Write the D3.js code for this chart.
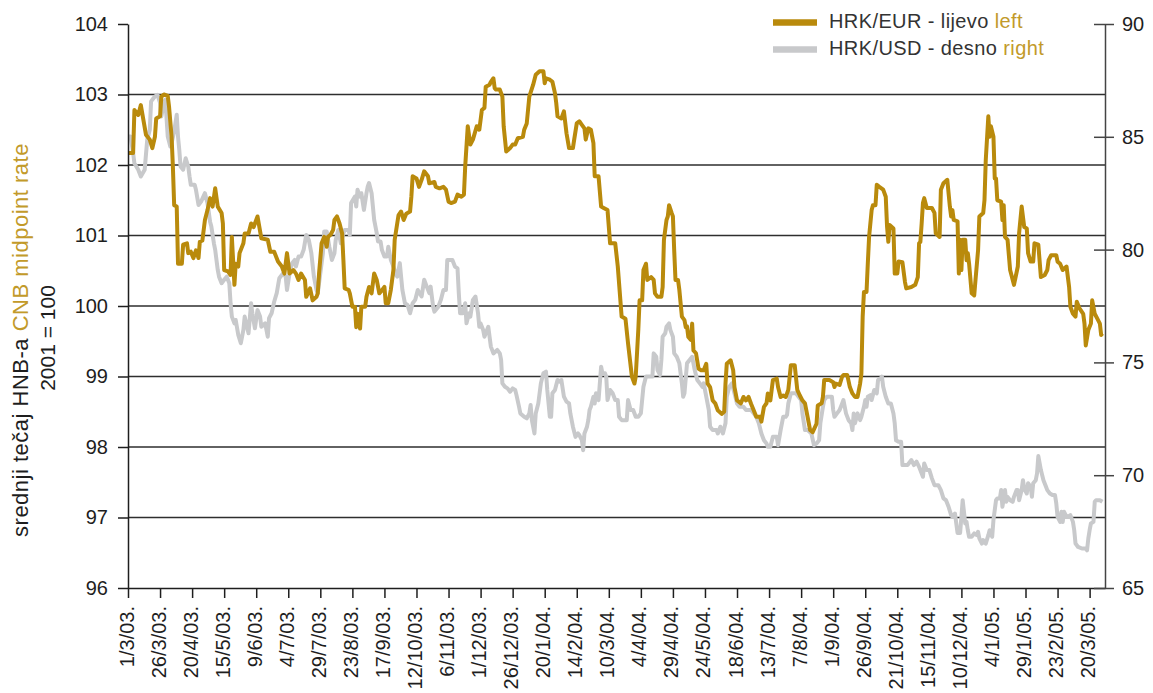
<!DOCTYPE html>
<html><head><meta charset="utf-8">
<script src="https://cdn.jsdelivr.net/npm/d3@7"></script>
<style>body{margin:0;background:#fff}svg{display:block;font-family:"Liberation Sans",Arial,Helvetica,sans-serif}</style>
</head><body><svg id="chart" width="1153" height="693"></svg>
<script>
// ---------------- data ----------------
const xTickLabels = ["1/3/03.","26/3/03.","20/4/03.","15/5/03.","9/6/03.","4/7/03.","29/7/03.","23/8/03.","17/9/03.","12/10/03.","6/11/03.","1/12/03.","26/12/03.","20/1/04.","14/2/04.","10/3/04.","4/4/04.","29/4/04.","24/5/04.","18/6/04.","13/7/04.","7/8/04.","1/9/04.","26/9/04.","21/10/04.","15/11/04.","10/12/04.","4/1/05.","29/1/05.","23/2/05.","20/3/05."];
const leftTicks = [96,97,98,99,100,101,102,103,104];
const rightTicks = [65,70,75,80,85,90];
const legendLabels = [["HRK/EUR - lijevo ","left"],["HRK/USD - desno ","right"]];
const titleLine1 = ["srednji tečaj HNB-a ","CNB midpoint rate"];
const titleLine2 = "2001 = 100";

// HRK/EUR index, left axis
const eurSeries = [["2003-03-01",102.17],["2003-03-05",102.17],["2003-03-06",102.78],["2003-03-09",102.71],["2003-03-11",102.85],["2003-03-13",102.64],["2003-03-15",102.43],["2003-03-18",102.36],["2003-03-20",102.24],["2003-03-22",102.40],["2003-03-23",102.66],["2003-03-26",102.69],["2003-03-27",102.97],["2003-03-29",103.00],["2003-04-01",102.98],["2003-04-02",102.83],["2003-04-04",102.40],["2003-04-05",101.98],["2003-04-06",101.43],["2003-04-08",101.41],["2003-04-09",100.60],["2003-04-12",100.60],["2003-04-13",100.87],["2003-04-16",100.89],["2003-04-17",100.75],["2003-04-19",100.77],["2003-04-21",100.68],["2003-04-23",100.79],["2003-04-25",100.68],["2003-04-26",100.91],["2003-04-28",100.93],["2003-04-30",101.22],["2003-05-02",101.36],["2003-05-04",101.53],["2003-05-06",101.41],["2003-05-08",101.67],["2003-05-10",101.41],["2003-05-13",101.32],["2003-05-14",101.17],["2003-05-15",100.51],["2003-05-18",100.49],["2003-05-20",100.44],["2003-05-21",100.98],["2003-05-23",100.30],["2003-05-24",100.60],["2003-05-26",100.56],["2003-05-27",100.75],["2003-05-30",100.89],["2003-05-31",101.03],["2003-06-03",101.03],["2003-06-05",101.17],["2003-06-07",101.12],["2003-06-10",101.27],["2003-06-13",100.96],["2003-06-18",100.94],["2003-06-20",100.77],["2003-06-23",100.77],["2003-06-26",100.63],["2003-06-29",100.56],["2003-07-01",100.46],["2003-07-03",100.75],["2003-07-05",100.46],["2003-07-08",100.51],["2003-07-10",100.46],["2003-07-12",100.37],["2003-07-14",100.46],["2003-07-17",100.37],["2003-07-18",100.13],["2003-07-21",100.25],["2003-07-23",100.08],["2003-07-26",100.13],["2003-07-27",100.18],["2003-07-28",100.46],["2003-07-30",100.89],["2003-08-01",100.98],["2003-08-03",100.84],["2003-08-04",100.98],["2003-08-06",101.01],["2003-08-08",101.08],["2003-08-09",101.22],["2003-08-11",101.27],["2003-08-13",101.17],["2003-08-15",101.03],["2003-08-16",100.65],["2003-08-17",100.25],["2003-08-20",100.23],["2003-08-21",100.18],["2003-08-23",99.99],["2003-08-25",99.99],["2003-08-26",99.70],["2003-08-27",99.89],["2003-08-29",99.68],["2003-08-30",99.99],["2003-09-02",99.99],["2003-09-03",100.13],["2003-09-05",100.27],["2003-09-07",100.18],["2003-09-09",100.46],["2003-09-11",100.37],["2003-09-13",100.18],["2003-09-15",100.22],["2003-09-17",100.27],["2003-09-18",100.04],["2003-09-20",100.04],["2003-09-22",100.23],["2003-09-24",100.51],["2003-09-25",100.94],["2003-09-28",101.29],["2003-09-30",101.34],["2003-10-02",101.22],["2003-10-04",101.31],["2003-10-07",101.34],["2003-10-08",101.55],["2003-10-09",101.84],["2003-10-12",101.81],["2003-10-14",101.69],["2003-10-16",101.79],["2003-10-18",101.91],["2003-10-21",101.84],["2003-10-22",101.74],["2003-10-26",101.76],["2003-10-27",101.69],["2003-10-30",101.67],["2003-11-02",101.69],["2003-11-04",101.65],["2003-11-06",101.48],["2003-11-08",101.46],["2003-11-11",101.48],["2003-11-13",101.58],["2003-11-16",101.55],["2003-11-18",101.58],["2003-11-19",101.98],["2003-11-21",102.55],["2003-11-23",102.29],["2003-11-25",102.36],["2003-11-28",102.55],["2003-11-30",102.50],["2003-12-02",102.78],["2003-12-04",102.81],["2003-12-05",103.11],["2003-12-08",103.14],["2003-12-09",103.18],["2003-12-11",103.23],["2003-12-12",103.09],["2003-12-13",103.07],["2003-12-16",103.07],["2003-12-18",102.97],["2003-12-19",102.55],["2003-12-21",102.19],["2003-12-24",102.24],["2003-12-26",102.29],["2003-12-28",102.29],["2003-12-30",102.38],["2004-01-03",102.40],["2004-01-04",102.50],["2004-01-06",102.59],["2004-01-08",102.97],["2004-01-11",103.14],["2004-01-13",103.28],["2004-01-16",103.33],["2004-01-19",103.33],["2004-01-20",103.16],["2004-01-21",103.23],["2004-01-24",103.21],["2004-01-26",103.18],["2004-01-28",103.02],["2004-01-29",102.88],["2004-01-30",102.69],["2004-02-02",102.66],["2004-02-04",102.76],["2004-02-06",102.45],["2004-02-08",102.24],["2004-02-11",102.24],["2004-02-12",102.36],["2004-02-14",102.59],["2004-02-16",102.62],["2004-02-18",102.57],["2004-02-20",102.52],["2004-02-21",102.36],["2004-02-23",102.52],["2004-02-25",102.50],["2004-02-27",102.31],["2004-02-28",101.84],["2004-03-02",101.84],["2004-03-04",101.41],["2004-03-06",101.39],["2004-03-09",101.36],["2004-03-11",100.89],["2004-03-15",100.89],["2004-03-17",100.56],["2004-03-20",99.85],["2004-03-23",99.82],["2004-03-25",99.47],["2004-03-28",99.00],["2004-03-30",98.90],["2004-03-31",99.00],["2004-04-02",99.66],["2004-04-03",100.08],["2004-04-05",100.08],["2004-04-06",100.51],["2004-04-08",100.60],["2004-04-09",100.37],["2004-04-12",100.41],["2004-04-14",100.37],["2004-04-15",100.18],["2004-04-17",100.13],["2004-04-20",100.13],["2004-04-21",100.27],["2004-04-22",100.94],["2004-04-24",101.22],["2004-04-25",101.27],["2004-04-26",101.43],["2004-04-28",101.32],["2004-04-29",101.27],["2004-04-30",100.79],["2004-05-01",100.37],["2004-05-03",100.37],["2004-05-04",100.23],["2004-05-06",99.85],["2004-05-08",99.80],["2004-05-09",99.70],["2004-05-10",99.71],["2004-05-11",99.56],["2004-05-13",99.52],["2004-05-14",99.75],["2004-05-15",99.37],["2004-05-17",99.33],["2004-05-19",99.11],["2004-05-21",99.09],["2004-05-23",99.09],["2004-05-25",99.18],["2004-05-26",98.90],["2004-05-28",98.85],["2004-05-30",98.66],["2004-06-01",98.62],["2004-06-03",98.52],["2004-06-06",98.47],["2004-06-08",98.50],["2004-06-09",98.90],["2004-06-10",99.18],["2004-06-13",99.23],["2004-06-15",99.09],["2004-06-16",98.85],["2004-06-18",98.66],["2004-06-21",98.62],["2004-06-23",98.71],["2004-06-25",98.66],["2004-06-27",98.71],["2004-06-29",98.61],["2004-07-01",98.52],["2004-07-03",98.43],["2004-07-06",98.43],["2004-07-07",98.36],["2004-07-09",98.57],["2004-07-11",98.62],["2004-07-12",98.76],["2004-07-14",98.66],["2004-07-15",98.81],["2004-07-16",98.95],["2004-07-19",98.97],["2004-07-20",98.85],["2004-07-22",98.71],["2004-07-24",98.73],["2004-07-26",98.71],["2004-07-28",98.81],["2004-07-30",99.16],["2004-08-02",99.16],["2004-08-04",98.81],["2004-08-06",98.73],["2004-08-08",98.66],["2004-08-10",98.62],["2004-08-12",98.43],["2004-08-14",98.24],["2004-08-16",98.21],["2004-08-19",98.33],["2004-08-20",98.59],["2004-08-23",98.62],["2004-08-24",98.71],["2004-08-25",98.95],["2004-08-29",98.95],["2004-09-01",98.92],["2004-09-02",98.85],["2004-09-03",98.90],["2004-09-06",98.88],["2004-09-08",99.00],["2004-09-09",99.02],["2004-09-12",99.02],["2004-09-14",98.85],["2004-09-16",98.76],["2004-09-18",98.71],["2004-09-20",98.71],["2004-09-22",98.90],["2004-09-23",99.04],["2004-09-24",99.85],["2004-09-25",100.20],["2004-09-27",100.20],["2004-09-28",100.60],["2004-09-29",100.98],["2004-10-01",101.36],["2004-10-02",101.43],["2004-10-04",101.43],["2004-10-05",101.72],["2004-10-07",101.69],["2004-10-10",101.65],["2004-10-12",101.55],["2004-10-13",101.13],["2004-10-14",100.91],["2004-10-15",101.15],["2004-10-18",101.10],["2004-10-19",100.46],["2004-10-21",100.46],["2004-10-22",100.63],["2004-10-25",100.62],["2004-10-27",100.34],["2004-10-28",100.25],["2004-11-01",100.27],["2004-11-04",100.30],["2004-11-06",100.41],["2004-11-07",100.89],["2004-11-08",100.91],["2004-11-09",101.17],["2004-11-10",101.46],["2004-11-11",101.53],["2004-11-13",101.39],["2004-11-15",101.39],["2004-11-17",101.39],["2004-11-19",101.32],["2004-11-20",101.03],["2004-11-23",100.98],["2004-11-24",101.65],["2004-11-26",101.74],["2004-11-29",101.79],["2004-12-01",101.41],["2004-12-02",101.27],["2004-12-03",101.36],["2004-12-04",101.22],["2004-12-07",101.20],["2004-12-08",100.46],["2004-12-09",100.94],["2004-12-10",100.51],["2004-12-11",100.94],["2004-12-13",100.94],["2004-12-14",100.65],["2004-12-15",100.75],["2004-12-16",100.60],["2004-12-18",100.18],["2004-12-20",100.15],["2004-12-21",100.37],["2004-12-23",100.79],["2004-12-24",101.27],["2004-12-27",101.32],["2004-12-28",101.50],["2004-12-29",102.07],["2004-12-31",102.69],["2005-01-01",102.40],["2005-01-02",102.55],["2005-01-04",102.40],["2005-01-05",101.81],["2005-01-06",101.81],["2005-01-07",101.50],["2005-01-10",101.48],["2005-01-11",101.22],["2005-01-12",101.43],["2005-01-13",100.98],["2005-01-15",100.94],["2005-01-17",100.51],["2005-01-20",100.30],["2005-01-23",100.56],["2005-01-24",101.03],["2005-01-26",101.41],["2005-01-28",101.12],["2005-01-30",101.10],["2005-01-31",100.75],["2005-02-02",100.63],["2005-02-04",100.63],["2005-02-05",100.89],["2005-02-08",100.87],["2005-02-10",100.41],["2005-02-13",100.44],["2005-02-15",100.51],["2005-02-16",100.65],["2005-02-18",100.72],["2005-02-22",100.72],["2005-02-23",100.63],["2005-02-25",100.60],["2005-02-27",100.51],["2005-03-02",100.56],["2005-03-04",100.27],["2005-03-05",99.99],["2005-03-07",99.89],["2005-03-09",99.85],["2005-03-10",100.06],["2005-03-12",99.97],["2005-03-15",99.89],["2005-03-16",99.75],["2005-03-17",99.44],["2005-03-19",99.66],["2005-03-21",99.75],["2005-03-22",100.08],["2005-03-24",99.89],["2005-03-26",99.82],["2005-03-28",99.75],["2005-03-29",99.59],["2005-03-30",99.61]];

// HRK/USD index, right axis
const usdSeries = [["2003-03-01",85.01],["2003-03-03",85.01],["2003-03-05",84.28],["2003-03-06",83.83],["2003-03-09",83.54],["2003-03-11",83.24],["2003-03-14",83.54],["2003-03-16",84.87],["2003-03-18",85.31],["2003-03-19",86.57],["2003-03-21",86.72],["2003-03-22",86.79],["2003-03-24",86.86],["2003-03-26",86.50],["2003-03-27",85.90],["2003-03-28",86.20],["2003-03-30",86.64],["2003-03-31",85.90],["2003-04-01",85.01],["2003-04-03",84.57],["2003-04-04",84.72],["2003-04-06",85.24],["2003-04-08",85.98],["2003-04-09",85.01],["2003-04-10",84.42],["2003-04-11",83.68],["2003-04-13",83.54],["2003-04-15",84.05],["2003-04-17",83.68],["2003-04-18",83.24],["2003-04-19",82.87],["2003-04-22",82.87],["2003-04-23",82.65],["2003-04-25",81.98],["2003-04-27",82.13],["2003-04-30",82.50],["2003-05-02",82.06],["2003-05-04",81.24],["2003-05-05",81.02],["2003-05-07",80.28],["2003-05-08",79.99],["2003-05-10",79.10],["2003-05-11",78.80],["2003-05-13",78.51],["2003-05-15",78.66],["2003-05-17",78.80],["2003-05-19",78.51],["2003-05-20",77.62],["2003-05-21",77.03],["2003-05-23",76.73],["2003-05-24",76.88],["2003-05-26",76.22],["2003-05-28",75.85],["2003-05-30",76.44],["2003-05-31",77.03],["2003-06-03",76.29],["2003-06-05",77.62],["2003-06-06",77.18],["2003-06-08",76.51],["2003-06-10",77.32],["2003-06-12",77.03],["2003-06-13",76.58],["2003-06-16",76.73],["2003-06-18",76.14],["2003-06-19",76.96],["2003-06-21",77.18],["2003-06-23",77.69],["2003-06-25",78.07],["2003-06-27",78.73],["2003-06-30",78.95],["2003-07-02",78.80],["2003-07-03",78.21],["2003-07-05",78.95],["2003-07-07",79.40],["2003-07-09",79.54],["2003-07-10",79.25],["2003-07-12",79.69],["2003-07-14",79.69],["2003-07-16",79.99],["2003-07-18",80.65],["2003-07-20",80.43],["2003-07-22",79.84],["2003-07-24",78.80],["2003-07-26",78.21],["2003-07-27",78.07],["2003-07-29",78.95],["2003-07-31",79.84],["2003-08-01",80.80],["2003-08-03",80.80],["2003-08-05",80.13],["2003-08-07",79.54],["2003-08-09",79.84],["2003-08-10",80.43],["2003-08-12",80.87],["2003-08-14",80.28],["2003-08-16",80.73],["2003-08-17",80.87],["2003-08-20",80.87],["2003-08-21",80.65],["2003-08-22",82.06],["2003-08-25",82.35],["2003-08-26",81.91],["2003-08-27",82.65],["2003-08-29",82.35],["2003-08-30",82.50],["2003-09-01",81.76],["2003-09-03",82.50],["2003-09-04",82.80],["2003-09-05",82.95],["2003-09-07",82.50],["2003-09-08",81.91],["2003-09-09",81.32],["2003-09-11",80.73],["2003-09-12",80.36],["2003-09-14",80.36],["2003-09-15",79.99],["2003-09-17",79.69],["2003-09-19",79.69],["2003-09-20",80.13],["2003-09-22",79.54],["2003-09-24",79.25],["2003-09-26",78.88],["2003-09-27",78.80],["2003-09-29",79.40],["2003-09-30",78.80],["2003-10-01",78.21],["2003-10-03",77.62],["2003-10-05",77.55],["2003-10-07",77.18],["2003-10-09",77.62],["2003-10-11",77.77],["2003-10-13",78.21],["2003-10-16",77.92],["2003-10-18",78.66],["2003-10-20",78.36],["2003-10-22",78.07],["2003-10-23",78.36],["2003-10-25",77.47],["2003-10-26",77.25],["2003-10-29",77.47],["2003-10-31",77.77],["2003-11-02",78.21],["2003-11-04",78.21],["2003-11-05",79.54],["2003-11-06",79.54],["2003-11-09",79.54],["2003-11-11",79.25],["2003-11-13",79.17],["2003-11-14",78.07],["2003-11-15",77.18],["2003-11-17",77.18],["2003-11-19",77.62],["2003-11-20",76.73],["2003-11-22",77.18],["2003-11-23",77.03],["2003-11-25",77.77],["2003-11-27",77.92],["2003-11-29",77.18],["2003-11-30",76.58],["2003-12-01",76.73],["2003-12-03",76.44],["2003-12-04",76.14],["2003-12-07",76.58],["2003-12-08",76.14],["2003-12-09",75.70],["2003-12-11",75.40],["2003-12-14",75.55],["2003-12-16",75.40],["2003-12-17",75.11],["2003-12-18",74.07],["2003-12-20",73.92],["2003-12-22",73.85],["2003-12-24",73.70],["2003-12-26",73.85],["2003-12-28",73.78],["2003-12-29",73.55],["2003-12-31",73.03],["2004-01-01",72.74],["2004-01-04",72.59],["2004-01-06",72.52],["2004-01-08",72.74],["2004-01-09",73.11],["2004-01-10",72.44],["2004-01-12",71.85],["2004-01-13",72.74],["2004-01-15",73.18],["2004-01-17",74.07],["2004-01-19",74.52],["2004-01-21",74.59],["2004-01-22",73.78],["2004-01-24",72.59],["2004-01-25",72.59],["2004-01-26",73.63],["2004-01-28",73.78],["2004-01-30",74.22],["2004-02-01",74.14],["2004-02-02",74.22],["2004-02-04",73.48],["2004-02-06",73.26],["2004-02-08",73.18],["2004-02-09",72.74],["2004-02-11",72.15],["2004-02-13",71.70],["2004-02-15",71.85],["2004-02-16",71.78],["2004-02-18",71.55],["2004-02-19",71.11],["2004-02-20",71.85],["2004-02-22",72.15],["2004-02-23",72.44],["2004-02-24",72.89],["2004-02-25",73.03],["2004-02-27",73.48],["2004-02-28",73.18],["2004-02-29",73.63],["2004-03-02",73.33],["2004-03-04",74.81],["2004-03-05",74.52],["2004-03-07",74.52],["2004-03-08",74.37],["2004-03-09",73.33],["2004-03-11",73.78],["2004-03-13",73.63],["2004-03-15",73.33],["2004-03-17",73.33],["2004-03-18",72.59],["2004-03-20",72.44],["2004-03-24",72.44],["2004-03-25",73.33],["2004-03-27",72.89],["2004-03-29",72.89],["2004-03-31",72.59],["2004-04-02",72.59],["2004-04-04",72.74],["2004-04-06",73.92],["2004-04-08",74.37],["2004-04-11",74.37],["2004-04-13",74.37],["2004-04-14",75.40],["2004-04-16",75.25],["2004-04-17",74.66],["2004-04-19",74.44],["2004-04-20",75.11],["2004-04-21",76.14],["2004-04-23",76.29],["2004-04-24",76.58],["2004-04-26",76.73],["2004-04-27",76.44],["2004-04-29",76.14],["2004-04-30",75.40],["2004-05-02",75.25],["2004-05-04",74.96],["2004-05-06",74.07],["2004-05-07",73.48],["2004-05-08",73.63],["2004-05-10",74.96],["2004-05-12",75.11],["2004-05-14",75.25],["2004-05-15",74.96],["2004-05-16",74.66],["2004-05-18",74.22],["2004-05-20",74.07],["2004-05-22",73.92],["2004-05-23",74.07],["2004-05-25",73.48],["2004-05-27",72.89],["2004-05-28",72.15],["2004-05-30",72.00],["2004-06-02",72.00],["2004-06-03",71.85],["2004-06-05",72.15],["2004-06-07",71.85],["2004-06-09",72.30],["2004-06-10",73.48],["2004-06-12",73.92],["2004-06-14",74.07],["2004-06-16",73.63],["2004-06-18",73.18],["2004-06-20",73.03],["2004-06-23",73.03],["2004-06-25",72.89],["2004-06-27",72.89],["2004-06-29",72.89],["2004-07-01",72.74],["2004-07-03",72.59],["2004-07-05",72.30],["2004-07-07",71.85],["2004-07-09",71.55],["2004-07-11",71.41],["2004-07-12",71.26],["2004-07-14",71.26],["2004-07-16",71.70],["2004-07-19",71.70],["2004-07-20",71.33],["2004-07-22",72.00],["2004-07-24",72.59],["2004-07-26",72.59],["2004-07-27",72.67],["2004-07-28",73.18],["2004-07-30",73.63],["2004-08-01",73.63],["2004-08-03",73.63],["2004-08-05",73.48],["2004-08-07",73.33],["2004-08-08",72.74],["2004-08-10",72.00],["2004-08-12",72.00],["2004-08-15",71.85],["2004-08-17",71.33],["2004-08-19",71.41],["2004-08-21",71.55],["2004-08-22",72.30],["2004-08-24",73.03],["2004-08-25",73.33],["2004-08-27",73.48],["2004-08-31",73.48],["2004-09-01",72.89],["2004-09-02",72.59],["2004-09-04",72.74],["2004-09-06",72.89],["2004-09-08",73.18],["2004-09-09",73.33],["2004-09-11",72.74],["2004-09-13",72.44],["2004-09-15",72.30],["2004-09-16",72.00],["2004-09-17",72.74],["2004-09-18",72.30],["2004-09-20",72.74],["2004-09-22",72.44],["2004-09-23",72.59],["2004-09-25",73.03],["2004-09-26",73.33],["2004-09-27",73.03],["2004-09-28",73.48],["2004-09-30",73.55],["2004-10-01",73.33],["2004-10-03",73.78],["2004-10-05",73.63],["2004-10-06",74.22],["2004-10-08",74.29],["2004-10-09",74.37],["2004-10-10",73.92],["2004-10-12",73.48],["2004-10-14",73.18],["2004-10-16",73.18],["2004-10-18",72.74],["2004-10-19",72.30],["2004-10-20",71.55],["2004-10-22",71.48],["2004-10-24",71.48],["2004-10-25",70.45],["2004-10-29",70.45],["2004-11-01",70.67],["2004-11-03",70.45],["2004-11-05",70.60],["2004-11-07",70.37],["2004-11-10",69.93],["2004-11-11",70.52],["2004-11-13",70.23],["2004-11-15",70.23],["2004-11-17",69.86],["2004-11-19",69.56],["2004-11-22",69.56],["2004-11-24",69.34],["2004-11-26",68.97],["2004-11-28",68.89],["2004-11-30",68.60],["2004-12-02",68.23],["2004-12-03",68.15],["2004-12-05",68.30],["2004-12-06",67.86],["2004-12-07",67.44],["2004-12-09",67.44],["2004-12-10",68.15],["2004-12-11",68.89],["2004-12-13",67.86],["2004-12-14",67.93],["2004-12-15",67.56],["2004-12-16",67.27],["2004-12-18",67.27],["2004-12-20",67.42],["2004-12-22",67.34],["2004-12-23",67.49],["2004-12-24",67.20],["2004-12-26",66.97],["2004-12-27",67.12],["2004-12-29",66.97],["2004-12-31",67.34],["2005-01-01",67.56],["2005-01-03",67.27],["2005-01-04",68.01],["2005-01-06",68.89],["2005-01-07",68.97],["2005-01-09",68.97],["2005-01-10",69.34],["2005-01-11",68.60],["2005-01-13",69.34],["2005-01-14",68.82],["2005-01-15",69.04],["2005-01-17",68.89],["2005-01-19",68.82],["2005-01-20",69.04],["2005-01-22",69.34],["2005-01-23",69.34],["2005-01-24",68.89],["2005-01-26",69.34],["2005-01-27",69.78],["2005-01-28",69.41],["2005-01-30",69.19],["2005-01-31",69.64],["2005-02-02",69.49],["2005-02-03",69.04],["2005-02-04",69.64],["2005-02-06",69.78],["2005-02-07",70.08],["2005-02-08",70.85],["2005-02-10",70.23],["2005-02-12",69.78],["2005-02-14",69.49],["2005-02-15",69.34],["2005-02-17",69.19],["2005-02-19",69.12],["2005-02-21",69.12],["2005-02-22",68.75],["2005-02-23",68.15],["2005-02-25",67.93],["2005-02-26",68.38],["2005-02-27",67.93],["2005-02-28",68.38],["2005-03-02",68.15],["2005-03-03",68.15],["2005-03-05",68.23],["2005-03-07",67.93],["2005-03-08",67.56],["2005-03-09",66.97],["2005-03-11",66.82],["2005-03-14",66.75],["2005-03-15",66.75],["2005-03-17",66.75],["2005-03-18",66.67],["2005-03-19",67.20],["2005-03-20",67.56],["2005-03-21",67.86],["2005-03-23",67.93],["2005-03-24",68.82],["2005-03-25",68.89],["2005-03-28",68.89],["2005-03-30",68.82]];

// ---------------- chart ----------------
const GOLD = "#b98a0c", GOLD_TEXT = "#c29a2a", GREY = "#c8c9cb", INK = "#1e1e1e";
const L = 128, R = 1105, T = 24, B = 588;
const svg = d3.select("#chart");
const parse = d3.timeParse("%Y-%m-%d");
const parseTick = s => { const [d, m, y] = s.replace(".", "").split("/"); return new Date(2000 + +y, +m - 1, +d); };
const tickDates = xTickLabels.map(parseTick);

const x = d3.scaleTime().domain([new Date(2003, 2, 1), new Date(2005, 3, 1)]).range([L, R]);
const yL = d3.scaleLinear().domain([96, 104]).range([B, T]);
const yR = d3.scaleLinear().domain([65, 90]).range([B, T]);

// gridlines
svg.append("g").selectAll("line").data(leftTicks.filter(v => v > 96 && v < 104)).join("line")
  .attr("x1", L).attr("x2", R).attr("y1", d => yL(d)).attr("y2", d => yL(d))
  .attr("stroke", "#2e2e2e").attr("stroke-width", 1.3);

// series
const usd = usdSeries.map(([d, v]) => ({ date: parse(d), v }));
const eur = eurSeries.map(([d, v]) => ({ date: parse(d), v }));
svg.append("path").datum(usd)
  .attr("d", d3.line().x(d => x(d.date)).y(d => yR(d.v)))
  .attr("fill", "none").attr("stroke", GREY).attr("stroke-width", 4).attr("stroke-linejoin", "round");
svg.append("path").datum(eur)
  .attr("d", d3.line().x(d => x(d.date)).y(d => yL(d.v)))
  .attr("fill", "none").attr("stroke", GOLD).attr("stroke-width", 4).attr("stroke-linejoin", "round");

// x axis
const gx = svg.append("g").attr("transform", `translate(0,${B})`)
  .call(d3.axisBottom(x).tickValues(tickDates).tickFormat((d, i) => xTickLabels[i]).tickSize(10).tickSizeOuter(0));
gx.select(".domain").attr("stroke", INK).attr("stroke-width", 1.5);
gx.selectAll(".tick line").attr("stroke", INK).attr("stroke-width", 1.5);
gx.selectAll(".tick text").attr("transform", "rotate(-90)").attr("text-anchor", "end")
  .attr("x", -18).attr("y", 5).attr("dy", 0).attr("font-size", 20).attr("fill", INK)
  .attr("font-family", '"Liberation Sans",Arial,sans-serif');

// left axis
const gl = svg.append("g").attr("transform", `translate(${L},0)`)
  .call(d3.axisLeft(yL).tickValues(leftTicks).tickSize(10).tickPadding(10).tickSizeOuter(0));
gl.select(".domain").attr("stroke", INK).attr("stroke-width", 1.5);
gl.selectAll(".tick line").attr("stroke", INK).attr("stroke-width", 1.5);
gl.selectAll(".tick text").attr("font-size", 20).attr("fill", INK).attr("font-family", '"Liberation Sans",Arial,sans-serif');

// right axis
const gr = svg.append("g").attr("transform", `translate(${R},0)`)
  .call(d3.axisRight(yR).tickValues(rightTicks).tickSize(9).tickPadding(8).tickSizeOuter(0));
gr.select(".domain").attr("stroke", "#444").attr("stroke-width", 1.5);
gr.selectAll(".tick line").attr("x1", -11).attr("stroke", "#444").attr("stroke-width", 1.5);
gr.selectAll(".tick text").attr("font-size", 20).attr("fill", INK).attr("font-family", '"Liberation Sans",Arial,sans-serif');

// y axis title
const t1 = svg.append("text").attr("transform", "translate(28,340) rotate(-90)")
  .attr("text-anchor", "middle").attr("font-size", 22).attr("letter-spacing", 0.5);
t1.append("tspan").attr("fill", INK).text(titleLine1[0]);
t1.append("tspan").attr("fill", GOLD_TEXT).text(titleLine1[1]);
svg.append("text").attr("transform", "translate(55,338) rotate(-90)")
  .attr("text-anchor", "middle").attr("font-size", 21).attr("fill", INK).text(titleLine2);

// legend
const legendColors = [GOLD, GREY];
const lg = svg.append("g");
legendLabels.forEach((lab, i) => {
  const yy = 22.5 + i * 27;
  lg.append("line").attr("x1", 773).attr("x2", 817).attr("y1", yy).attr("y2", yy)
    .attr("stroke", legendColors[i]).attr("stroke-width", 6.5);
  const tx = lg.append("text").attr("x", 829).attr("y", yy + 5.5).attr("font-size", 20).attr("letter-spacing", 0.4);
  tx.append("tspan").attr("fill", "#333").text(lab[0]);
  tx.append("tspan").attr("fill", GOLD_TEXT).text(lab[1]);
});
</script></body></html>
